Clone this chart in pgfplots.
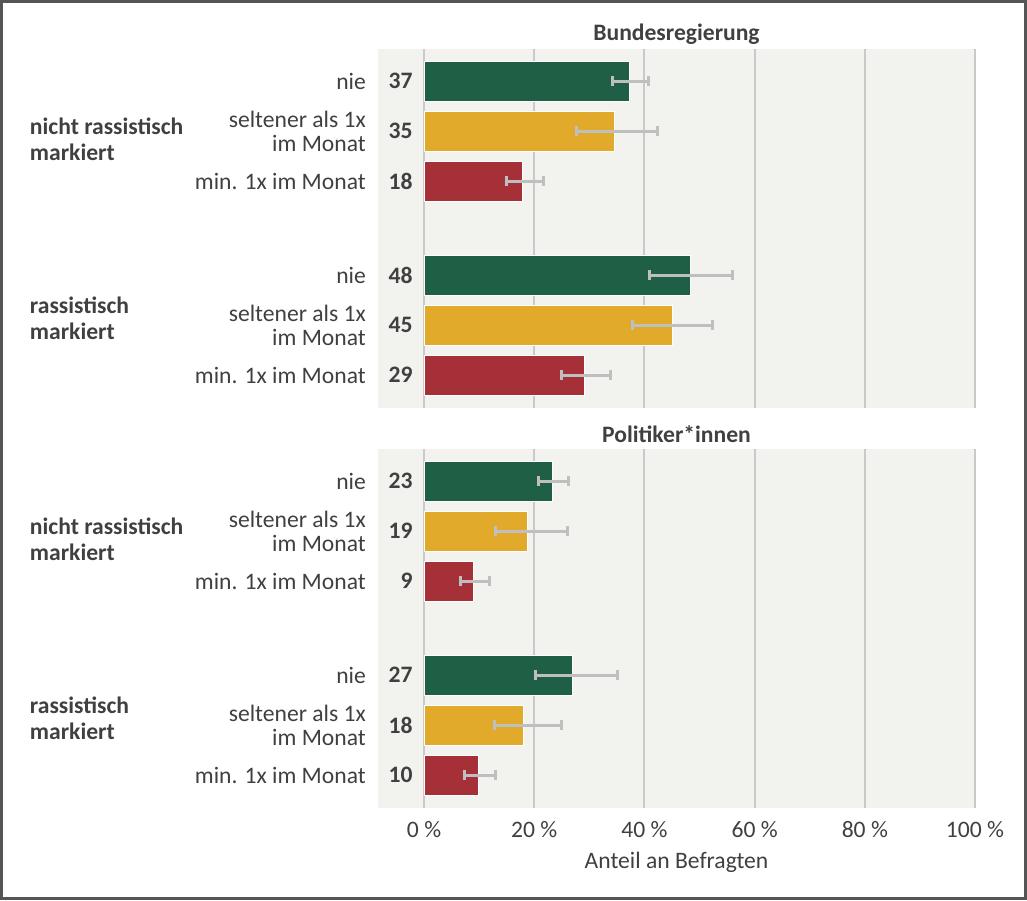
\documentclass[border=0pt]{standalone}
\usepackage{fontspec}
\setmainfont{Carlito}
\usepackage{pgfplots}
\pgfplotsset{compat=1.18}
\usepackage{pgfplotstable}

\definecolor{cgreen}{RGB}{31,95,69}
\definecolor{cyellow}{RGB}{226,170,42}
\definecolor{cred}{RGB}{166,48,55}
\definecolor{panelbg}{RGB}{242,243,239}
\definecolor{gridc}{RGB}{201,201,201}
\definecolor{errc}{RGB}{191,191,191}
\definecolor{txt}{RGB}{64,64,64}
\definecolor{framec}{RGB}{85,85,85}

% y: bar position, x: share (%), ep/em: error bar plus/minus
% Bundesregierung
\pgfplotstableread{
y x ep em
0 37.3 3.4 3.1
-3.88 48.4 7.5 7.5
}\bNie
\pgfplotstableread{
y x ep em
-1 34.6 7.8 7.0
-4.88 45.0 7.3 7.2
}\bSel
\pgfplotstableread{
y x ep em
-2 17.9 3.8 3.0
-5.88 29.1 4.7 4.2
}\bMin
% Politiker*innen
\pgfplotstableread{
y x ep em
0 23.3 2.9 2.6
-3.88 27.0 8.2 6.7
}\pNie
\pgfplotstableread{
y x ep em
-1 18.7 7.4 5.7
-4.88 18.1 6.9 5.3
}\pSel
\pgfplotstableread{
y x ep em
-2 9.0 2.8 2.3
-5.88 9.8 3.2 2.5
}\pMin

\pgfplotsset{
  panel/.style={
    scale only axis, width=298.5pt, height=179.5pt,
    xmin=-8.36, xmax=100, ymin=-6.54, ymax=0.64,
    axis background/.style={fill=panelbg},
    axis line style={draw=none},
    major tick length=0pt,
    xtick={0,20,...,100}, ytick=\empty,
    xmajorgrids, grid style={color=gridc, line width=1pt},
    xbar, bar shift=0pt, bar width=0.8,
    clip=false,
    font=\fontsize{11.8}{12}\selectfont,
  },
  errb/.style={
    error bars/x dir=both, error bars/x explicit,
    error bars/error mark=|,
    error bars/error bar style={color=errc, line width=1.5pt},
    error bars/error mark options={color=errc, line width=1.5pt, mark size=2.4pt},
  },
}
\tikzset{
  cat/.style={anchor=east, align=right, inner sep=0pt, text=txt, font=\fontsize{11.8}{12}\selectfont},
  val/.style={anchor=east, inner sep=0pt, text=txt, font=\bfseries\fontsize{11.8}{12}\selectfont},
  grp/.style={anchor=west, align=left, inner sep=0pt, text=txt, font=\bfseries\fontsize{11.8}{12.8}\selectfont},
}

\newcommand{\rowlabels}{%
  \node[cat] at (axis cs:-10.5,0) {nie};
  \node[cat] at (axis cs:-10.5,-1) {seltener als 1x\\im Monat};
  \node[cat] at (axis cs:-10.5,-2) {min. 1x im Monat};
  \node[cat] at (axis cs:-10.5,-3.88) {nie};
  \node[cat] at (axis cs:-10.5,-4.88) {seltener als 1x\\im Monat};
  \node[cat] at (axis cs:-10.5,-5.88) {min. 1x im Monat};
  \node[grp] at (axis cs:-71.6,-1.16) {nicht rassistisch\\markiert};
  \node[grp] at (axis cs:-71.6,-4.74) {rassistisch\\markiert};
}

\begin{document}
\begin{tikzpicture}
\useasboundingbox (0,0) rectangle (513.5pt,-450pt);
\draw[framec, line width=1.5pt] (0.75pt,-0.75pt) rectangle (512.75pt,-449.25pt);

\begin{axis}[panel, at={(189pt,-204pt)}, anchor=south west, xticklabels={}]
\addplot[fill=cgreen, draw=white, line width=0.4pt, errb] table[x=x, y=y, x error plus=ep, x error minus=em] {\bNie};
\addplot[fill=cyellow, draw=white, line width=0.4pt, errb] table[x=x, y=y, x error plus=ep, x error minus=em] {\bSel};
\addplot[fill=cred, draw=white, line width=0.4pt, errb] table[x=x, y=y, x error plus=ep, x error minus=em] {\bMin};
\rowlabels
\node[val] at (axis cs:-2,0) {37};
\node[val] at (axis cs:-2,-1) {35};
\node[val] at (axis cs:-2,-2) {18};
\node[val] at (axis cs:-2,-3.88) {48};
\node[val] at (axis cs:-2,-4.88) {45};
\node[val] at (axis cs:-2,-5.88) {29};
\node[text=txt, font=\bfseries\fontsize{11.8}{12}\selectfont, yshift=7.5pt]
  at (axis description cs:0.5,1) {Bundesregierung};
\end{axis}

\begin{axis}[panel, at={(189pt,-404pt)}, anchor=south west,
  xticklabels={{0 \%},{20 \%},{40 \%},{60 \%},{80 \%},{100 \%}},
  xticklabel style={text=txt, anchor=center, yshift=-11pt}]
\addplot[fill=cgreen, draw=white, line width=0.4pt, errb] table[x=x, y=y, x error plus=ep, x error minus=em] {\pNie};
\addplot[fill=cyellow, draw=white, line width=0.4pt, errb] table[x=x, y=y, x error plus=ep, x error minus=em] {\pSel};
\addplot[fill=cred, draw=white, line width=0.4pt, errb] table[x=x, y=y, x error plus=ep, x error minus=em] {\pMin};
\rowlabels
\node[val] at (axis cs:-2,0) {23};
\node[val] at (axis cs:-2,-1) {19};
\node[val] at (axis cs:-2,-2) {9};
\node[val] at (axis cs:-2,-3.88) {27};
\node[val] at (axis cs:-2,-4.88) {18};
\node[val] at (axis cs:-2,-5.88) {10};
\node[text=txt, font=\bfseries\fontsize{11.8}{12}\selectfont, yshift=7.5pt]
  at (axis description cs:0.5,1) {Politiker*innen};
\node[text=txt, yshift=-27pt] at (axis description cs:0.5,0) {Anteil an Befragten};
\end{axis}
\end{tikzpicture}
\end{document}
